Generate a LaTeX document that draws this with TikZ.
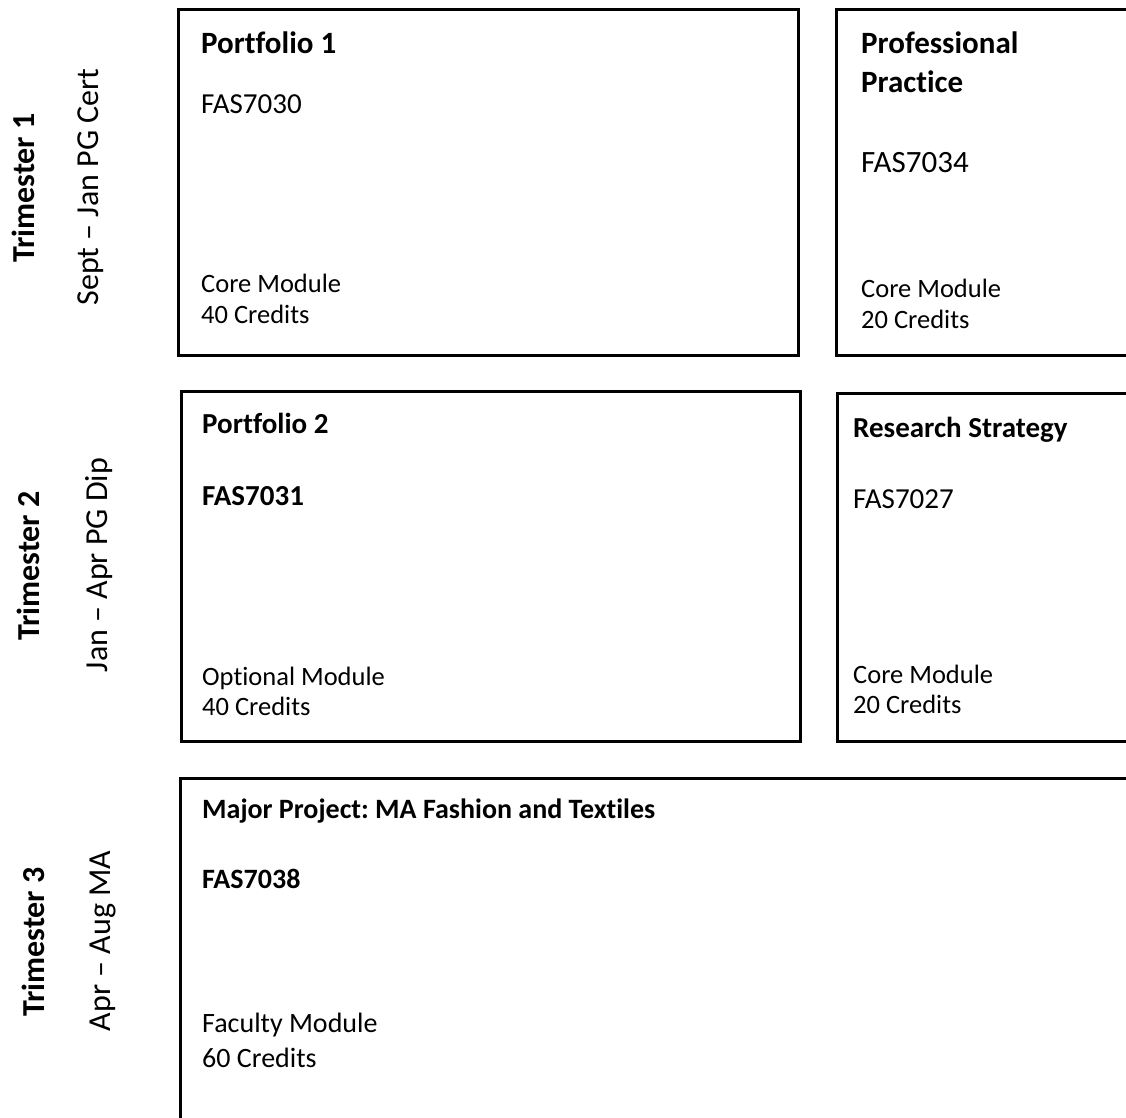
\documentclass[tikz,border=0pt]{standalone}
\usepackage{fontspec}
\setmainfont{Carlito}[Ligatures=NoCommon]
\frenchspacing
\begin{document}
\begin{tikzpicture}
[x=1pt,y=-1pt,
modbox/.style={draw,line width=2.5pt,anchor=north west,inner sep=0pt},
txt/.style={anchor=base west,inner sep=0pt},
head/.style={txt,font=\bfseries\fontsize{31}{37}\selectfont},
subhead/.style={txt,font=\bfseries\fontsize{29}{35}\selectfont},
code/.style={txt,font=\fontsize{29}{35}\selectfont},
note/.style={txt,font=\fontsize{26.5}{32}\selectfont},
term/.style={rotate=90,inner sep=0pt,font=\bfseries\fontsize{32}{38}\selectfont},
period/.style={rotate=90,inner sep=0pt,font=\fontsize{32}{38}\selectfont}]
\clip (0,0) rectangle (1126,1117);

% trimester labels
\node (t1) at (23,188) [term] {Trimester 1};
\node (s1) at (91,187) [period] {Sept – Jan PG Cert};
\node (t2) at (28,566) [term] {Trimester 2};
\node (s2) at (99,565) [period] {Jan – Apr PG Dip};
\node (t3) at (33,942) [term] {Trimester 3};
\node (s3) at (103,941) [period] {Apr – Aug MA};

% module boxes
\node (port1) at (177,8) [modbox,minimum width=620pt,minimum height=346pt] {};
\node (prof) at (835,8) [modbox,minimum width=330pt,minimum height=346pt] {};
\node (port2) at (180,390) [modbox,minimum width=619pt,minimum height=350pt] {};
\node (research) at (836,392) [modbox,minimum width=330pt,minimum height=348pt] {};
\node (major) at (179,777) [modbox,minimum width=1000pt,minimum height=420pt] {};

% trimester 1
\node (port1title) at (201,53) [head] {Portfolio 1};
\node (port1code) at (201,113) [code] {FAS7030};
\node (port1type) at (201,292) [note] {Core Module};
\node (port1cred) at (201,323) [note] {40 Credits};
\node (proftitle) at (861,53) [head] {Professional};
\node (proftitleb) at (861,92) [head] {Practice};
\node (profcode) at (861,172) [code,font=\fontsize{31}{37}\selectfont] {FAS7034};
\node (proftype) at (861,297) [note] {Core Module};
\node (profcred) at (861,328) [note] {20 Credits};

% trimester 2
\node (port2title) at (202,433) [subhead] {Portfolio 2};
\node (port2code) at (202,505) [subhead] {FAS7031};
\node (port2type) at (202,685) [note] {Optional Module};
\node (port2cred) at (202,715) [note] {40 Credits};
\node (researchtitle) at (853,437) [subhead] {Research Strategy};
\node (researchcode) at (853,508) [code] {FAS7027};
\node (researchtype) at (853,683) [note] {Core Module};
\node (researchcred) at (853,713) [note] {20 Credits};

% trimester 3
\node (majortitle) at (202,818) [subhead,font=\bfseries\fontsize{28}{34}\selectfont] {Major Project: MA Fashion and Textiles};
\node (majorcode) at (202,888) [subhead,font=\bfseries\fontsize{28}{34}\selectfont] {FAS7038};
\node (majortype) at (202,1032) [note,font=\fontsize{28}{34}\selectfont] {Faculty Module};
\node (majorcred) at (202,1067) [note,font=\fontsize{28}{34}\selectfont] {60 Credits};

\end{tikzpicture}
\end{document}
